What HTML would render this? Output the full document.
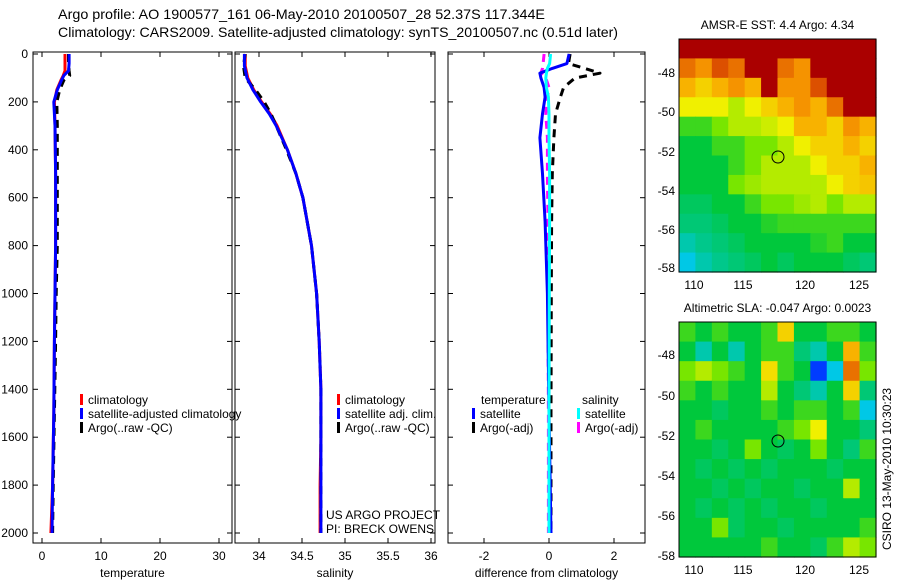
<!DOCTYPE html>
<html><head><meta charset="utf-8"><style>
html,body{margin:0;padding:0;background:#fff;width:900px;height:580px;overflow:hidden}
svg text{font-family:"Liberation Sans",sans-serif;fill:#000}
</style></head><body>
<svg id="fig" width="900" height="580" viewBox="0 0 900 580" xmlns="http://www.w3.org/2000/svg">
<text x="58" y="19" font-size="14" textLength="487" lengthAdjust="spacingAndGlyphs">Argo profile: AO 1900577_161 06-May-2010 20100507_28 52.37S 117.344E</text>
<text x="58" y="37" font-size="14" textLength="560" lengthAdjust="spacingAndGlyphs">Climatology: CARS2009. Satellite-adjusted climatology: synTS_20100507.nc (0.51d later)</text>
<g id="plots"></g>
<text transform="translate(891,550) rotate(-90)" font-size="12">CSIRO 13-May-2010 10:30:23</text>
</svg>
<script>
// ---------- data ----------
const depthT = [0,40,70,90,110,150,200,300,500,800,1000,1200,1500,1800,2000];
const tempClim = [3.9,3.9,3.9,3.6,3.2,2.5,2.1,2.2,2.3,2.3,2.2,2.1,2.0,1.8,1.5];
const tempSat  = [4.6,4.6,4.5,3.7,3.3,2.6,2.0,2.2,2.3,2.3,2.2,2.1,2.0,1.8,1.7];
const tempArgo = [4.5,4.5,4.6,4.7,3.7,3.0,2.5,2.6,2.6,2.6,2.4,2.3,2.1,1.9,1.8];
const depthS = [0,50,100,150,200,250,300,400,500,600,800,1000,1200,1400,1600,1800,2000];
const salClim = [33.84,33.84,33.87,33.94,34.03,34.13,34.21,34.33,34.43,34.51,34.61,34.67,34.70,34.72,34.72,34.71,34.71];
const salSat  = [33.83,33.83,33.86,33.93,34.02,34.12,34.20,34.33,34.43,34.51,34.61,34.67,34.70,34.72,34.72,34.72,34.72];
const salArgo = [33.84,33.82,33.84,33.96,34.06,34.14,34.20,34.32,34.43,34.51,34.61,34.67,34.70,34.72,34.72,34.72,34.72];
const depthD = [0,40,60,80,100,140,180,250,350,500,700,1000,1500,2000];
const dTempSat  = [0.62,0.55,0.1,-0.28,-0.25,-0.15,-0.12,-0.2,-0.28,-0.2,-0.12,-0.05,0.0,0.06];
const dTempArgo = [0.65,0.6,1.1,1.57,0.8,0.45,0.35,0.2,0.15,0.1,0.08,0.07,0.06,0.06];
const dSalSat   = [0.05,0.02,-0.05,-0.08,-0.1,-0.08,-0.02,0.0,0.0,0.02,0.02,0.01,0.0,0.0];
const dSalArgo  = [-0.15,-0.18,-0.2,-0.25,-0.1,0.0,-0.05,-0.1,-0.05,-0.05,-0.03,-0.03,-0.02,-0.02];
const tempTicks = [0,10,20,30];
const salTicks = [34,34.5,35,35.5,36];
const salTickLabels = ['34','34.5','35','35.5','36'];
const diffTicks = [-2,0,2];
const depthTicks = [0,200,400,600,800,1000,1200,1400,1600,1800,2000];
const lonTicks = [110,115,120,125];
const latTicks = [-48,-50,-52,-54,-56,-58];
const sstGrid = [
[1,1,1,1,1,1,1,1,1,1,1,1],
[0.85,0.8,0.9,0.85,1,1,0.85,0.8,1,1,1,1],
[0.75,0.7,0.75,0.8,0.75,1,0.8,0.8,0.9,1,1,1],
[0.65,0.65,0.65,0.6,0.65,0.7,0.75,0.8,0.75,0.85,1,1],
[0.5,0.5,0.55,0.6,0.6,0.62,0.65,0.75,0.75,0.7,0.8,0.75],
[0.45,0.45,0.5,0.5,0.55,0.55,0.6,0.65,0.7,0.7,0.75,0.7],
[0.45,0.45,0.45,0.5,0.55,0.6,0.6,0.6,0.65,0.7,0.7,0.75],
[0.45,0.45,0.45,0.55,0.58,0.6,0.6,0.6,0.6,0.65,0.7,0.72],
[0.42,0.42,0.45,0.45,0.5,0.55,0.55,0.58,0.6,0.55,0.6,0.6],
[0.4,0.4,0.42,0.45,0.45,0.48,0.5,0.5,0.5,0.5,0.5,0.5],
[0.35,0.38,0.4,0.42,0.45,0.45,0.45,0.45,0.48,0.5,0.45,0.45],
[0.3,0.35,0.38,0.4,0.42,0.45,0.42,0.45,0.45,0.45,0.42,0.4]];
const slaGrid = [
[0.5,0.45,0.5,0.45,0.45,0.5,0.7,0.45,0.45,0.5,0.5,0.45],
[0.45,0.35,0.45,0.35,0.45,0.5,0.5,0.4,0.35,0.45,0.75,0.5],
[0.55,0.6,0.55,0.5,0.45,0.68,0.5,0.45,0.15,0.3,0.85,0.55],
[0.5,0.45,0.5,0.45,0.45,0.6,0.45,0.4,0.35,0.45,0.7,0.4],
[0.45,0.45,0.42,0.45,0.45,0.5,0.45,0.5,0.5,0.45,0.5,0.3],
[0.45,0.5,0.45,0.45,0.45,0.45,0.5,0.55,0.65,0.45,0.45,0.4],
[0.45,0.45,0.42,0.45,0.55,0.45,0.42,0.45,0.55,0.45,0.4,0.5],
[0.45,0.42,0.45,0.42,0.45,0.42,0.45,0.45,0.45,0.42,0.45,0.45],
[0.45,0.45,0.42,0.45,0.42,0.45,0.45,0.42,0.45,0.45,0.6,0.45],
[0.45,0.42,0.45,0.42,0.45,0.42,0.45,0.45,0.42,0.45,0.45,0.45],
[0.45,0.45,0.55,0.42,0.45,0.45,0.42,0.45,0.45,0.45,0.45,0.5],
[0.45,0.45,0.45,0.45,0.45,0.5,0.45,0.45,0.42,0.5,0.6,0.55]];

const NS='http://www.w3.org/2000/svg';
const root=document.getElementById('plots');
function mk(tag,attrs,parent){const e=document.createElementNS(NS,tag);for(const k in attrs)e.setAttribute(k,attrs[k]);(parent||root).appendChild(e);return e;}
const yD=d=>54+d*0.2395;
const yTop=52,yBot=543;
const xT=v=>42+v*5.9, xS=v=>259+(v-34)*86, xD=v=>549+v*32.5;

function panel(name,x0,x1,ticks,labels,xf,xlabel,showY){
  const g=mk('g',{});
  
  
  const r=mk('rect',{x:x0,y:yTop,width:x1-x0,height:yBot-yTop,fill:'none',stroke:'#000','stroke-width':1},g);
  
  
  ticks.forEach((t,i)=>{const x=xf(t);
    mk('line',{x1:x,x2:x,y1:yTop,y2:yTop+5,stroke:'#000'},g);
    mk('line',{x1:x,x2:x,y1:yBot,y2:yBot-5,stroke:'#000'},g);
    const tx=mk('text',{x:x,y:yBot+17,'font-size':12,'text-anchor':'middle'},g);tx.textContent=labels[i];
    
    
  });
  depthTicks.forEach(d=>{const y=yD(d);
    mk('line',{x1:x0,x2:x0+5,y1:y,y2:y,stroke:'#000'},g);
    mk('line',{x1:x1,x2:x1-5,y1:y,y2:y,stroke:'#000'},g);
    if(showY){const t=mk('text',{x:x0-5,y:y+4,'font-size':12,'text-anchor':'end'},g);t.textContent=d;
      
      }
  });
  const xl=mk('text',{x:(x0+x1)/2,y:577,'font-size':12,'text-anchor':'middle'},g);xl.textContent=xlabel;
  
  
  return g;
}
function line(g,name,xs,ds,xf,color,dash,w){
  const pts=xs.map((v,i)=>xf(v).toFixed(1)+','+yD(ds[i]).toFixed(1)).join(' ');
  const p=mk('polyline',{points:pts,fill:'none',stroke:color,'stroke-width':w||3,'stroke-dasharray':dash||'none','stroke-linejoin':'round'},g);
  
  
}
function legend(g,x,y,items){
  items.forEach((it,i)=>{
    mk('rect',{x:x,y:y+i*14-10,width:3,height:11,fill:it[1]},g);
    const t=mk('text',{x:x+8,y:y+i*14,'font-size':12},g);t.textContent=it[0];
    
    
  });
}
const g1=panel('temperature-panel',33,232,tempTicks,tempTicks.map(String),xT,'temperature',true);
line(g1,'temp-climatology-line',tempClim,depthT,xT,'#ff0000');
line(g1,'temp-argo-line',tempArgo,depthT,xT,'#000','8,6');
line(g1,'temp-satellite-line',tempSat,depthT,xT,'#0000ff');
legend(g1,80,404,[['climatology','#f00'],['satellite-adjusted climatology','#00f'],['Argo(..raw -QC)','#000']]);
const g2=panel('salinity-panel',235,435,salTicks,salTickLabels,xS,'salinity',false);
line(g2,'sal-climatology-line',salClim,depthS,xS,'#ff0000');
line(g2,'sal-argo-line',salArgo,depthS,xS,'#000','8,6');
line(g2,'sal-satellite-line',salSat,depthS,xS,'#0000ff');
legend(g2,337,404,[['climatology','#f00'],['satellite adj. clim.','#00f'],['Argo(..raw -QC)','#000']]);
const pi1=mk('text',{x:326,y:519,'font-size':12},g2);pi1.textContent='US ARGO PROJECT';
const pi2=mk('text',{x:326,y:533,'font-size':12},g2);pi2.textContent='PI: BRECK OWENS';
const g3=panel('difference-panel',448,645,diffTicks,diffTicks.map(String),xD,'difference from climatology',false);
line(g3,'dtemp-argo-line',dTempArgo,depthD,xD,'#000','8,6');
line(g3,'dsal-argo-line',dSalArgo,depthD,xD,'#ff00ff','8,6');
line(g3,'dtemp-satellite-line',dTempSat,depthD,xD,'#0000ff');
line(g3,'dsal-satellite-line',dSalSat,depthD,xD,'#00ffff');
const th=mk('text',{x:481,y:404,'font-size':12},g3);th.textContent='temperature';
const sh=mk('text',{x:582,y:404,'font-size':12},g3);sh.textContent='salinity';
legend(g3,472,418,[['satellite','#00f'],['Argo(-adj)','#000']]);
legend(g3,577,418,[['satellite','#0ff'],['Argo(-adj)','#f0f']]);

function jet(v){
  const stops=[[0,[0,0,140]],[0.15,[0,60,255]],[0.3,[0,200,230]],[0.45,[0,200,60]],[0.55,[120,230,0]],[0.65,[240,240,0]],[0.78,[250,160,0]],[0.9,[220,80,0]],[1,[170,0,0]]];
  for(let i=1;i<stops.length;i++){if(v<=stops[i][0]){const a=stops[i-1],b=stops[i],f=(v-a[0])/(b[0]-a[0]);return 'rgb('+a[1].map((c,k)=>Math.round(c+(b[1][k]-c)*f)).join(',')+')';}}
  return 'rgb(170,0,0)';
}
const lonX=[694,743,805,859];
function drawMap(name,x0,y0,w,h,grid,latY,title){
  const g=mk('g',{});
  
  
  const rows=grid.length,cols=grid[0].length,cw=w/cols,ch=h/rows;
  grid.forEach((row,i)=>row.forEach((v,j)=>{
    const c=mk('rect',{x:x0+j*cw,y:y0+i*ch,width:cw+0.6,height:ch+0.6,fill:jet(v)},g);
    
    
  }));
  mk('rect',{x:x0,y:y0,width:w,height:h,fill:'none',stroke:'#000'},g);
  lonTicks.forEach((t,i)=>{const l=mk('text',{x:lonX[i],y:y0+h+17,'font-size':12,'text-anchor':'middle'},g);l.textContent=t;
    
    });
  latTicks.forEach((t,i)=>{const l=mk('text',{x:x0-4,y:latY[i]+4,'font-size':12,'text-anchor':'end'},g);l.textContent=t;
    
    });
  const tt=mk('text',{x:x0+w/2,y:y0-10,'font-size':12,'text-anchor':'middle'},g);tt.textContent=title;
  
  
  const m=mk('circle',{cx:778,cy:latY[2]+5,r:6,fill:'none',stroke:'#000'},g);
  
  
}
drawMap('sst-map',679,39,197,233,sstGrid,[73,112,152,191,230,268],'AMSR-E SST: 4.4  Argo: 4.34');
drawMap('sla-map',679,322,197,235,slaGrid,[355,396,436,476,516,556],'Altimetric SLA: -0.047  Argo: 0.0023');
</script>
</body></html>
